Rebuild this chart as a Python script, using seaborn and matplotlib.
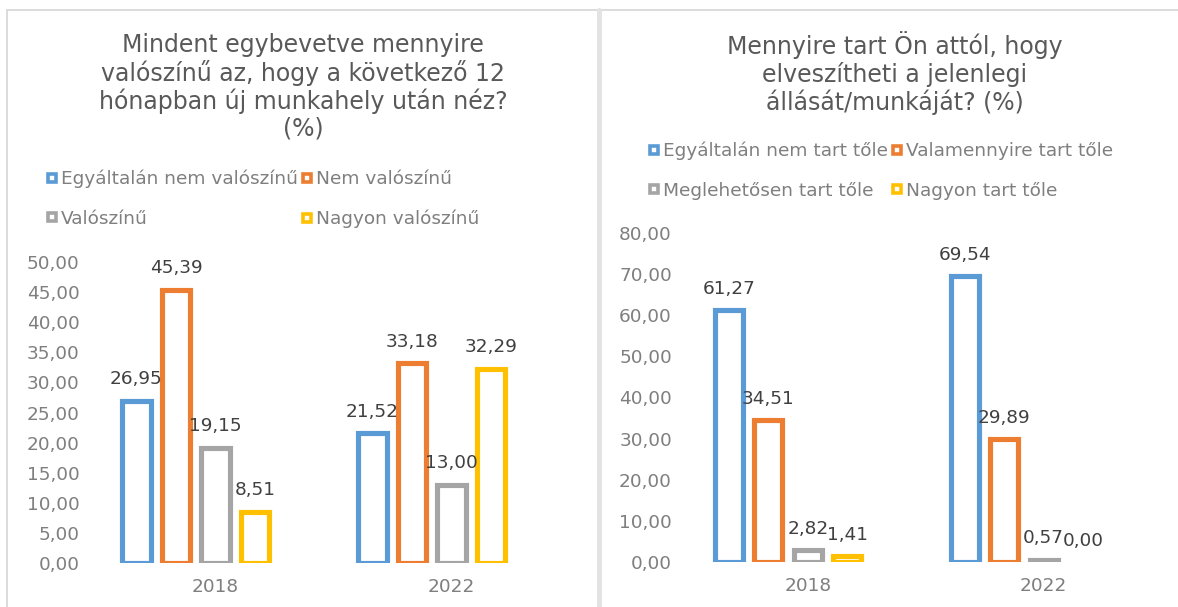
import matplotlib.pyplot as plt
import matplotlib.ticker as mticker
from matplotlib.lines import Line2D
import pandas as pd
import seaborn as sns

# ─── Adatok ──────────────────────────────────────────────────────────────────
YEARS = ["2018", "2022"]

LEFT_TITLE = "Mindent egybevetve mennyire\nvalószínű az, hogy a következő 12\nhónapban új munkahely után néz?\n(%)"
LEFT_CATS = ["Egyáltalán nem valószínű", "Nem valószínű", "Valószínű", "Nagyon valószínű"]
LEFT_2018 = [26.95, 45.39, 19.15, 8.51]
LEFT_2022 = [21.52, 33.18, 13.00, 32.29]
LEFT_TICKS = [0, 5, 10, 15, 20, 25, 30, 35, 40, 45, 50]

RIGHT_TITLE = "Mennyire tart Ön attól, hogy\nelveszítheti a jelenlegi\nállását/munkáját? (%)"
RIGHT_CATS = ["Egyáltalán nem tart tőle", "Valamennyire tart tőle", "Meglehetősen tart tőle", "Nagyon tart tőle"]
RIGHT_2018 = [61.27, 34.51, 2.82, 1.41]
RIGHT_2022 = [69.54, 29.89, 0.57, 0.00]
RIGHT_TICKS = [0, 10, 20, 30, 40, 50, 60, 70, 80]

COLORS = ["#5B9BD5", "#ED7D31", "#A5A5A5", "#FFC000"]
TITLE_C = "#595959"
TICK_C = "#7F7F7F"
LABEL_C = "#404040"
BORDER_C = "#D9D9D9"

sns.set_style("white")
plt.rcParams["font.family"] = ["DejaVu Sans"]

W, H = 1178, 607


def long_df(cats, v2018, v2022):
    rows = []
    for year, vals in zip(YEARS, [v2018, v2022]):
        for c, v in zip(cats, vals):
            rows.append({"year": year, "cat": c, "value": v})
    return pd.DataFrame(rows)


def comma(v, pos=None):
    return f"{v:.2f}".replace(".", ",")


def draw_panel(fig, rect, cats, v2018, v2022, ticks, title, title_x, title_y, leg_xy):
    ax = fig.add_axes(rect)
    df = long_df(cats, v2018, v2022)
    # az Excel-diagramban van egy üres ötödik sorozat is, ezért az eltolás
    hue_order = cats + ["_ures"]
    palette = dict(zip(cats, COLORS))
    palette["_ures"] = "white"
    sns.barplot(data=df, x="year", y="value", hue="cat", order=YEARS,
                hue_order=hue_order, palette=palette, fill=False,
                width=0.837, gap=0.29, linewidth=3.7, errorbar=None,
                legend=False, ax=ax)
    for cont in ax.containers:
        for p in cont:
            if p.get_height() == 0:
                p.set_linewidth(0)
        ax.bar_label(cont, fmt=lambda v: comma(v), padding=9,
                     fontsize=13.3, color=LABEL_C)
    ax.set_xlim(-0.5, 1.5)
    ax.set_ylim(ticks[0], ticks[-1])
    ax.set_yticks(ticks)
    ax.yaxis.set_major_formatter(mticker.FuncFormatter(comma))
    ax.tick_params(axis="both", length=0, labelsize=13.3, labelcolor=TICK_C)
    ax.tick_params(axis="y", pad=13)
    ax.tick_params(axis="x", pad=11)
    ax.set_xlabel("")
    ax.set_ylabel("")
    sns.despine(ax=ax, left=True, bottom=True)
    ax.patch.set_alpha(0)

    fig.text(title_x / W, 1 - title_y / H, title, ha="center", va="center",
             fontsize=17, color=TITLE_C, linespacing=1.13)

    handles = [Line2D([], [], marker="s", linestyle="none", markersize=5.6,
                      markerfacecolor="white", markeredgecolor=c,
                      markeredgewidth=2.6) for c in COLORS]
    # a legenda soronként töltődik, mint az Excelben
    idx = [0, 2, 1, 3]
    leg = fig.legend([handles[i] for i in idx], [cats[i] for i in idx],
                     loc="upper left",
                     bbox_to_anchor=(leg_xy[0] / W, 1 - leg_xy[1] / H),
                     ncol=2, frameon=False, fontsize=13.3, borderpad=0,
                     borderaxespad=0, handlelength=0.65, handletextpad=0.15,
                     columnspacing=0.2, labelspacing=1.15)
    for t in leg.get_texts():
        t.set_color(TICK_C)
    return ax


fig = plt.figure(figsize=(W / 100, H / 100), dpi=100)

draw_panel(fig, [97.5 / W, 44 / H, 472 / W, 301 / H],
           LEFT_CATS, LEFT_2018, LEFT_2022, LEFT_TICKS,
           LEFT_TITLE, 303, 87, (46, 170))
draw_panel(fig, [690 / W, 45 / H, 471.5 / W, 329 / H],
           RIGHT_CATS, RIGHT_2018, RIGHT_2022, RIGHT_TICKS,
           RIGHT_TITLE, 895, 73, (648, 142))

# panelkeretek
fig.add_artist(Line2D([7 / W, 1], [1 - 10 / H, 1 - 10 / H], transform=fig.transFigure,
                      color=BORDER_C, linewidth=1.3))
fig.add_artist(Line2D([7 / W, 7 / W], [0, 1 - 10 / H], transform=fig.transFigure,
                      color=BORDER_C, linewidth=1.3))
fig.add_artist(Line2D([599.5 / W, 599.5 / W], [0, 1 - 10 / H], transform=fig.transFigure,
                      color="#E3E3E3", linewidth=3.6))

fig.savefig("out.png", dpi=100)
plt.close(fig)
